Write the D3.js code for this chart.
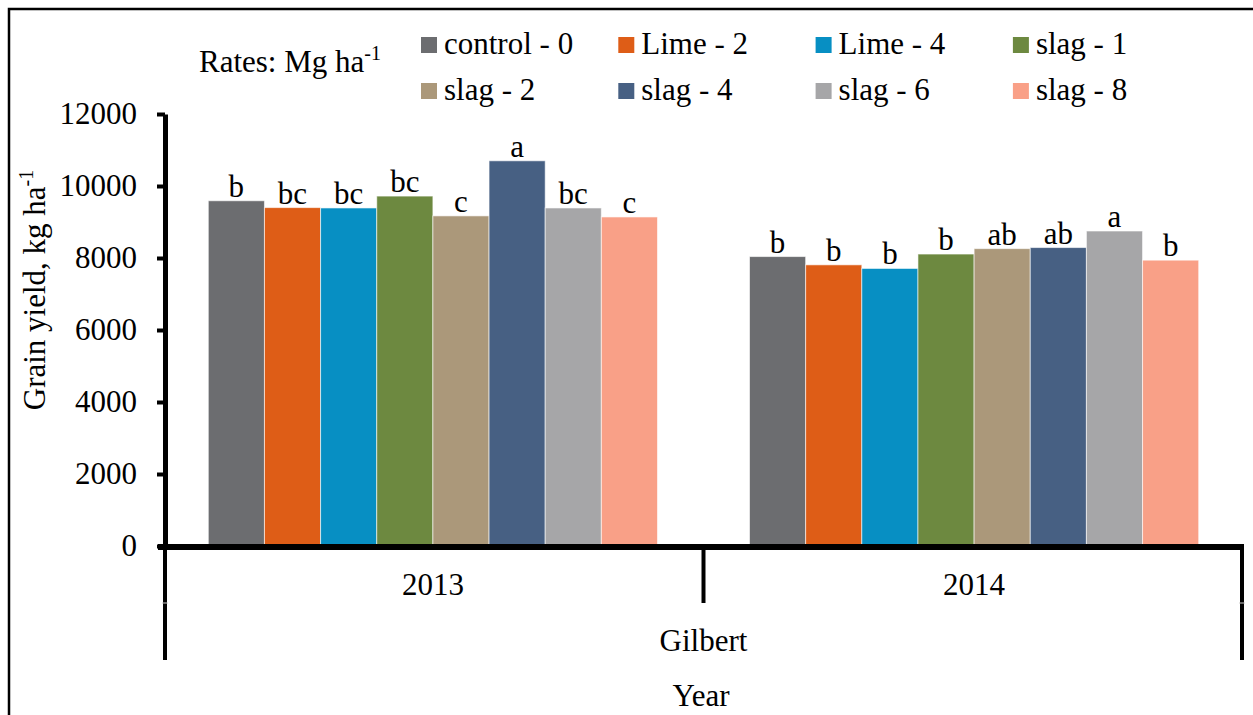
<html>
<head>
<meta charset="utf-8">
<script src="https://cdn.jsdelivr.net/npm/d3@7"></script>
<style>
  html, body { margin: 0; background: #fff; }
  svg text { font-family: "Liberation Serif", "Times New Roman", serif !important; fill: #000; }
</style>
</head>
<body>
<svg id="chart" width="1253" height="715"></svg>
<script>
// treatments (legend order) and colours
const treatments = ["control - 0", "Lime - 2", "Lime - 4", "slag - 1",
                    "slag - 2", "slag - 4", "slag - 6", "slag - 8"];
const colors = ["#6c6d70", "#de5d17", "#078fc3", "#6d8940",
                "#ab987a", "#476083", "#a6a6a8", "#f9a087"];
const years = ["2013", "2014"];

// grain yield, kg/ha
const yield2013 = [9590, 9400, 9390, 9720, 9170, 10700, 9390, 9140];
const yield2014 = [8040, 7810, 7710, 8110, 8260, 8290, 8750, 7940];

// significance letters
const letters2013 = ["b", "bc", "bc", "bc", "c", "a", "bc", "c"];
const letters2014 = ["b", "b", "b", "b", "ab", "ab", "a", "b"];

const yTicks = [0, 2000, 4000, 6000, 8000, 10000, 12000];

const serif = "'Liberation Serif', 'Times New Roman', serif";
const svg = d3.select("#chart");

// outer frame (cut off on right/bottom like the original)
svg.append("rect")
  .attr("x", 9).attr("y", 9)
  .attr("width", 1300).attr("height", 800)
  .attr("fill", "none").attr("stroke", "#000").attr("stroke-width", 2.5);

const plotL = 165, plotR = 1242, plotT = 114, plotB = 546;

const y = d3.scaleLinear().domain([0, 12000]).range([plotB, plotT]);
const x0 = d3.scaleBand().domain(years).range([plotL, plotR])
  .paddingInner(0.17).paddingOuter(0.08);
const x1 = d3.scaleBand().domain(treatments).range([0, x0.bandwidth()]);

const rows = [
  { year: "2013", values: yield2013, letters: letters2013 },
  { year: "2014", values: yield2014, letters: letters2014 }
];

// bars
const groups = svg.selectAll("g.year")
  .data(rows)
  .join("g")
  .attr("class", "year")
  .attr("transform", d => `translate(${x0(d.year)},0)`);

groups.selectAll("rect")
  .data(d => d.values.map((v, i) => ({ t: treatments[i], v: v, c: colors[i], l: d.letters[i] })))
  .join("rect")
  .attr("x", d => x1(d.t))
  .attr("y", d => y(d.v))
  .attr("width", x1.bandwidth())
  .attr("height", d => y(0) - y(d.v))
  .attr("fill", d => d.c)
  .attr("stroke", "#fff")
  .attr("stroke-opacity", 0.6)
  .attr("stroke-width", 1);

groups.selectAll("text.lbl")
  .data(d => d.values.map((v, i) => ({ t: treatments[i], v: v, l: d.letters[i] })))
  .join("text")
  .attr("class", "lbl")
  .attr("x", d => x1(d.t) + x1.bandwidth() / 2)
  .attr("y", d => y(d.v) - 4)
  .attr("text-anchor", "middle")
  .attr("font-size", 31)
  .text(d => d.l);

// y axis
const yAxis = svg.append("g")
  .attr("transform", `translate(${plotL},0)`)
  .call(d3.axisLeft(y).tickValues(yTicks).tickFormat(d3.format("d"))
    .tickSize(8).tickSizeOuter(0).tickPadding(20));
yAxis.attr("font-family", serif).attr("font-size", 31);
yAxis.select(".domain").attr("stroke", "#000").attr("stroke-width", 5);
yAxis.selectAll(".tick line").attr("stroke", "#000").attr("stroke-width", 4);
yAxis.selectAll(".tick text").style("font-family", serif).style("font-size", "31px");

// x axis line and category dividers
svg.append("line")
  .attr("x1", plotL - 7).attr("x2", plotR + 2)
  .attr("y1", plotB + 1).attr("y2", plotB + 1)
  .attr("stroke", "#000").attr("stroke-width", 6);

const mid = (x0("2013") + x0.bandwidth() + x0("2014")) / 2;
const dividers = [
  { x: plotL, y2: 660 },
  { x: mid, y2: 603 },
  { x: plotR, y2: 660 }
];
svg.selectAll("line.div")
  .data(dividers)
  .join("line")
  .attr("class", "div")
  .attr("x1", d => d.x).attr("x2", d => d.x)
  .attr("y1", plotB).attr("y2", d => d.y2)
  .attr("stroke", "#000").attr("stroke-width", 4);

// faint level separators
svg.selectAll("line.sep")
  .data([plotL, plotR])
  .join("line")
  .attr("class", "sep")
  .attr("x1", d => d - 3).attr("x2", d => d + 3)
  .attr("y1", 603).attr("y2", 603)
  .attr("stroke", "#ccc").attr("stroke-width", 1);

svg.selectAll("text.yr")
  .data(years)
  .join("text")
  .attr("class", "yr")
  .attr("x", d => x0(d) + x0.bandwidth() / 2)
  .attr("y", 595)
  .attr("text-anchor", "middle")
  .attr("font-size", 31)
  .text(d => d);

svg.append("text")
  .attr("x", (plotL + plotR) / 2).attr("y", 651)
  .attr("text-anchor", "middle").attr("font-size", 31)
  .text("Gilbert");

svg.append("text")
  .attr("x", 701).attr("y", 706)
  .attr("text-anchor", "middle").attr("font-size", 31)
  .text("Year");

// y axis title
const yt = svg.append("text")
  .attr("transform", "translate(45,290) rotate(-90)")
  .attr("text-anchor", "middle")
  .attr("font-size", 31);
yt.append("tspan").text("Grain yield, kg ha");
yt.append("tspan").attr("font-size", 20).attr("dy", -12).text("-1");

// rates note
const rt = svg.append("text")
  .attr("x", 199).attr("y", 72)
  .attr("font-size", 31);
rt.append("tspan").text("Rates: Mg ha");
rt.append("tspan").attr("font-size", 20).attr("dy", -12).text("-1");

// legend
const legend = svg.selectAll("g.leg")
  .data(treatments)
  .join("g")
  .attr("class", "leg")
  .attr("transform", (d, i) => `translate(${421 + (i % 4) * 197.3},${37 + Math.floor(i / 4) * 46})`);
legend.append("rect")
  .attr("width", 16).attr("height", 16)
  .attr("fill", (d, i) => colors[i]);
legend.append("text")
  .attr("x", 23).attr("y", 17)
  .attr("font-size", 31)
  .text(d => d);

svg.selectAll("text").style("font-family", serif);
</script>
</body>
</html>
